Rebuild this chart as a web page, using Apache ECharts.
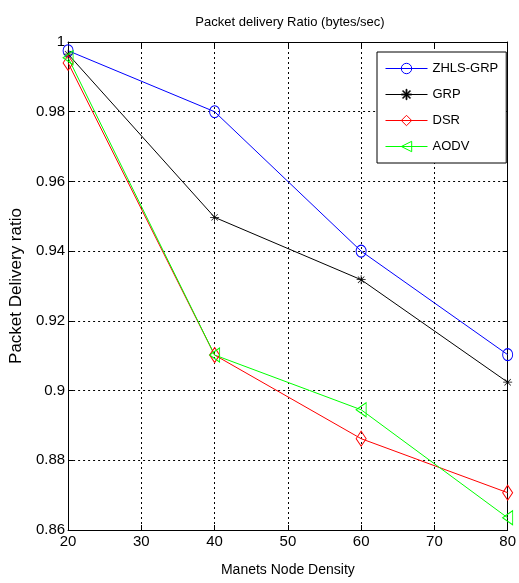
<!DOCTYPE html>
<html>
<head>
<meta charset="utf-8">
<script src="https://cdn.jsdelivr.net/npm/echarts@6/dist/echarts.min.js"></script>
<style>html,body{margin:0;padding:0;background:#fff}#c{width:519px;height:583px}</style>
</head>
<body>
<div id="c"></div>
<script>
var categories = [20, 40, 60, 80];
var zhlsGrp = [0.9975, 0.98, 0.94, 0.9103];
var grp = [0.9965, 0.9497, 0.9318, 0.9024];
var dsr = [0.994, 0.9102, 0.8862, 0.8707];
var aodv = [0.9955, 0.9102, 0.8945, 0.8635];
var seriesNames = ['ZHLS-GRP', 'GRP', 'DSR', 'AODV'];
var xTicks = [20, 30, 40, 50, 60, 70, 80];
var yTicks = [0.86, 0.88, 0.9, 0.92, 0.94, 0.96, 0.98, 1];

var FONT = "'Liberation Sans', Arial, sans-serif";
var star = 'path://M-0.4,-5L0.4,-5L0.4,5L-0.4,5Z M-5,-0.4L5,-0.4L5,0.4L-5,0.4Z M-3.8,-3.3L-3.3,-3.8L3.8,3.3L3.3,3.8Z M3.3,-3.8L3.8,-3.3L-3.3,3.8L-3.8,3.3Z';

function pairs(arr){ return categories.map(function(c,i){ return [c, arr[i]]; }); }

var chart = echarts.init(document.getElementById('c'), null, {renderer:'canvas'});
var gridLine = {show:true, lineStyle:{color:'#000', type:[2,3], width:1}};
var frameLine = {show:true, lineStyle:{color:'#000', width:1}};
var tick = {show:true, inside:true, length:5, lineStyle:{color:'#000'}};

function mk(name, data, color, symbol, size, rotate, filled){
  return {
    name:name, type:'line', data:pairs(data), symbol:symbol, symbolSize:size,
    symbolRotate: rotate || 0, showAllSymbol:true,
    lineStyle:{color:color, width:1},
    itemStyle:{color: filled ? color : 'rgba(255,255,255,0)', borderColor:color, borderWidth: filled ? 0 : 1},
    emphasis:{disabled:true}, animation:false, z: 5
  };
}

chart.setOption({
  animation:false,
  backgroundColor:'#fff',
  title:{text:'Packet delivery Ratio (bytes/sec)', left:285, top:11, textAlign:'center',
    textStyle:{fontFamily:FONT, fontSize:13, fontWeight:'normal', color:'#000'}},
  grid:{left:60, top:42, width:450, height:488, containLabel:false},
  legend:{
    left:377, top:52, orient:'vertical', padding:[10, 8, 10, 8],
    backgroundColor:'#fff', borderColor:'#000', borderWidth:1,
    itemWidth:42, itemHeight:13, itemGap:13,
    lineStyle:{width:1},
    itemStyle:{borderWidth:1},
    data: seriesNames,
    textStyle:{fontFamily:FONT, fontSize:13, color:'#000'}
  },
  xAxis:[{
    type:'value', min:20, max:80, interval:10, position:'bottom',
    axisLine:frameLine, axisTick:tick, splitLine:gridLine,
    axisLabel:{fontFamily:FONT, fontSize:15, color:'#000', margin:4},
    name:'Manets Node Density', nameLocation:'middle', nameGap:33,
    nameTextStyle:{fontFamily:FONT, fontSize:14, color:'#000'}
  },{
    type:'value', min:20, max:80, interval:10, position:'top',
    axisLine:frameLine, axisTick:tick, splitLine:{show:false}, axisLabel:{show:false}
  }],
  yAxis:[{
    type:'value', min:0.86, max:1, interval:0.02, position:'left',
    axisLine:frameLine, axisTick:tick, splitLine:gridLine,
    axisLabel:{fontFamily:FONT, fontSize:15, color:'#000', margin:3,
      formatter:function(v){ return String(+v.toFixed(2)); }},
    name:'Packet Delivery ratio', nameLocation:'middle', nameGap:33, nameRotate:90,
    nameTextStyle:{fontFamily:FONT, fontSize:17, color:'#000'}
  },{
    type:'value', min:0.86, max:1, interval:0.02, position:'right',
    axisLine:frameLine, axisTick:tick, splitLine:{show:false}, axisLabel:{show:false}
  }],
  series:[
    mk(seriesNames[0], zhlsGrp, '#0000ff', 'circle', [10,12]),
    mk(seriesNames[1], grp, '#000000', star, 9, 0, true),
    mk(seriesNames[2], dsr, '#ff0000', 'diamond', [10,15]),
    mk(seriesNames[3], aodv, '#00ff00', 'triangle', [14,10], 90)
  ]
});
</script>
</body>
</html>
